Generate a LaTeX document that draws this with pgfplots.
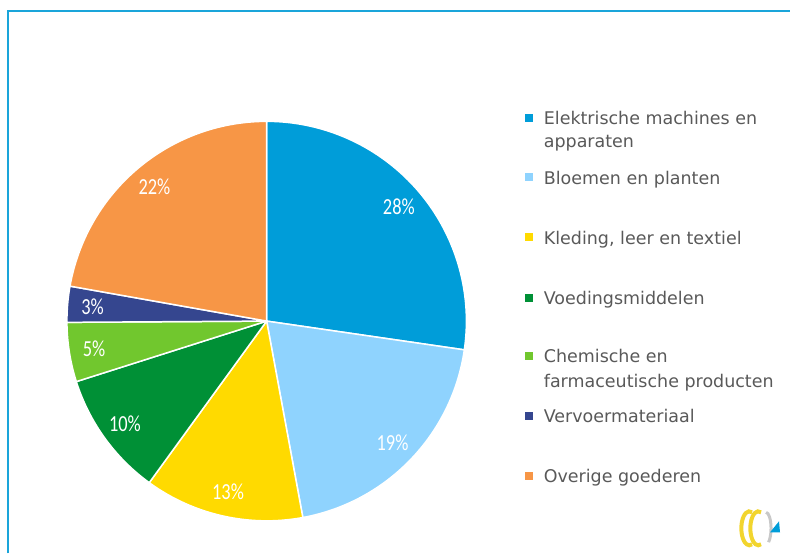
\documentclass[border=0pt]{standalone}
\usepackage{pgfplots}
\pgfplotsset{compat=1.18}
\usepackage{fontspec}
\setmainfont{DejaVu Sans}
\newfontfamily\carlito{Carlito}

\definecolor{cElek}{HTML}{009DD9}
\definecolor{cBloem}{HTML}{8FD3FE}
\definecolor{cKled}{HTML}{FFDA00}
\definecolor{cVoed}{HTML}{009036}
\definecolor{cChem}{HTML}{71C72E}
\definecolor{cVerv}{HTML}{35468F}
\definecolor{cOver}{HTML}{F79646}
\definecolor{frame}{HTML}{1AA5DA}
\definecolor{txt}{HTML}{595959}
\definecolor{logoY}{HTML}{F2D52E}
\definecolor{logoG}{HTML}{C8C8C8}

\newcommand\lgd{\fontsize{17.5}{23}\selectfont}
\newcommand\lbl{\carlito\fontsize{23}{26}\selectfont}

\begin{document}
\begin{tikzpicture}
\begin{axis}[
  x=1pt, y=1pt,
  xmin=0, xmax=791, ymin=0, ymax=554,
  scale only axis, hide axis, clip=false,
]
\path (0,0) rectangle (791,554);
% frame
\draw[frame, line width=2pt] (8,0) -- (8,542.5) -- (791,542.5);

% pie: slice share (as drawn) / printed label, clockwise from the top
\def\cum{90}
\foreach \v/\lab/\col in {27.3/28/cElek, 19.8/19/cBloem, 12.9/13/cKled, 10.1/10/cVoed, 4.8/5/cChem, 2.9/3/cVerv, 22.2/22/cOver}{
  \pgfmathsetmacro\angA{\cum}
  \pgfmathsetmacro\angB{\cum-3.6*\v}
  \pgfmathsetmacro\lx{267+175*cos((\angA+\angB)/2)}
  \pgfmathsetmacro\ly{232.5+175*sin((\angA+\angB)/2)}
  \edef\doit{%
    \noexpand\fill[\col, draw=white, line width=1.5pt, line join=round]
      (267,232.5) -- ++(\angA:200pt) arc[start angle=\angA, end angle=\angB, radius=200pt] -- cycle;
    \noexpand\node[text=white, font=\noexpand\lbl, xscale=0.8] at (\lx,\ly) {\lab\noexpand\%};
  }
  \doit
  \global\let\cum\angB
}

% legend
\foreach \y/\col in {125/cElek, 184.3/cBloem, 244.5/cKled, 305/cVoed, 363.3/cChem, 423.3/cVerv, 483.3/cOver}{
  \edef\doit{\noexpand\fill[\col] (526,554-\y+3) rectangle (534,554-\y+11);}
  \doit
}
\node[anchor=base west, text=txt, font=\lgd] at (541,554-125) {Elektrische machines en};
\node[anchor=base west, text=txt, font=\lgd] at (541,554-148) {apparaten};
\node[anchor=base west, text=txt, font=\lgd] at (541,554-184.3) {Bloemen en planten};
\node[anchor=base west, text=txt, font=\lgd] at (541,554-244.5) {Kleding, leer en textiel};
\node[anchor=base west, text=txt, font=\lgd] at (541,554-305) {Voedingsmiddelen};
\node[anchor=base west, text=txt, font=\lgd] at (541,554-363.3) {Chemische en};
\node[anchor=base west, text=txt, font=\lgd] at (541,554-387.5) {farmaceutische producten};
\node[anchor=base west, text=txt, font=\lgd] at (541,554-423.3) {Vervoermateriaal};
\node[anchor=base west, text=txt, font=\lgd] at (541,554-483.3) {Overige goederen};

% logo
\draw[logoY, line width=4pt] (753,554-513) arc[start angle=70, end angle=290, x radius=8pt, y radius=17pt];
\draw[logoY, line width=4pt] (762,554-513) arc[start angle=70, end angle=290, x radius=8pt, y radius=17pt];
\draw[logoG, line width=3pt] (767,554-513) arc[start angle=90, end angle=-60, x radius=5pt, y radius=16pt];
\fill[cElek] (771,554-533) -- (781,554-533) -- (780,554-522) -- cycle;
\end{axis}
\end{tikzpicture}
\end{document}
